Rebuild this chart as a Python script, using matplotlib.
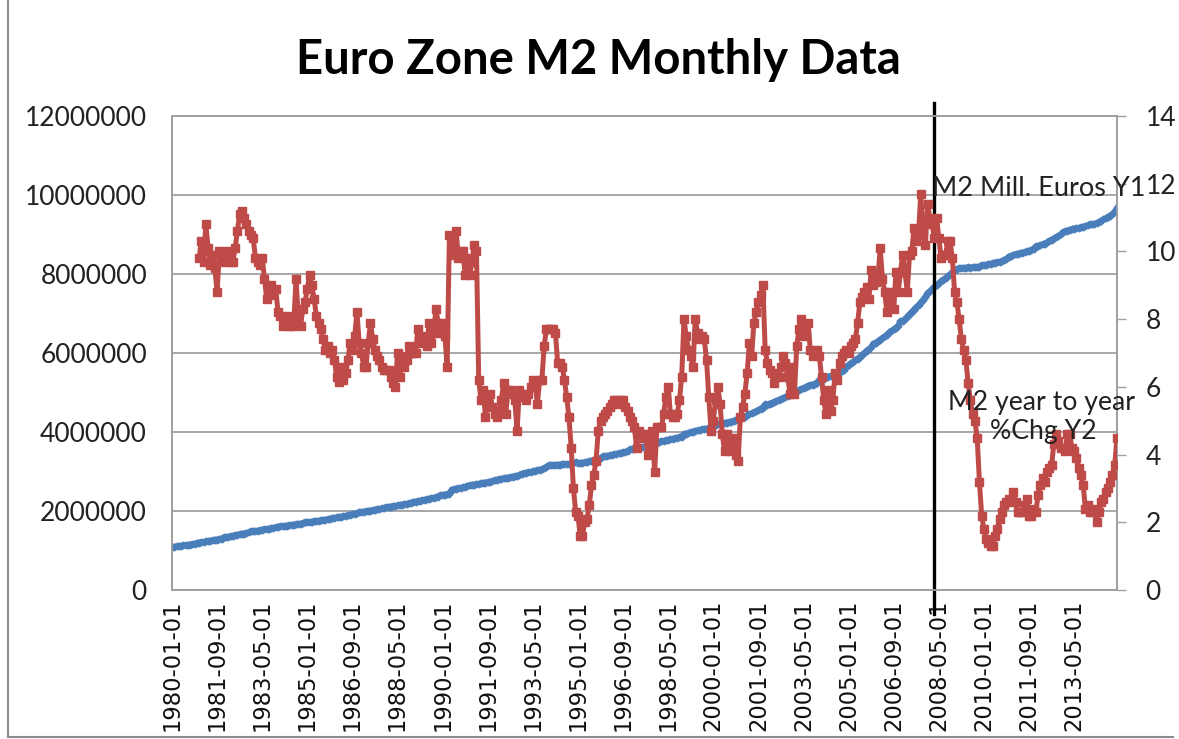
import numpy as np
import pandas as pd
import matplotlib
matplotlib.use("Agg")
import matplotlib.pyplot as plt
from matplotlib.lines import Line2D

# ---------------- data ----------------
start_month = "1980-01-01"
n_months = 420

# M2, in thousands of million euros (x1000 -> million euros)
m2_k = [
    1090, 1098, 1106, 1114, 1120, 1128, 1136, 1142, 1150, 1160, 1170, 1192,  # 1980
    1200, 1208, 1218, 1228, 1236, 1246, 1256, 1266, 1278, 1290, 1302, 1335,  # 1981
    1340, 1350, 1362, 1372, 1384, 1394, 1406, 1418, 1430, 1444, 1458, 1482,  # 1982
    1486, 1494, 1504, 1514, 1522, 1532, 1542, 1552, 1562, 1572, 1584, 1604,  # 1983
    1608, 1614, 1622, 1630, 1638, 1646, 1656, 1664, 1672, 1682, 1692, 1715,  # 1984
    1716, 1720, 1730, 1738, 1746, 1756, 1764, 1772, 1782, 1790, 1800, 1825,  # 1985
    1828, 1836, 1848, 1858, 1868, 1880, 1890, 1902, 1914, 1926, 1940, 1972,  # 1986
    1976, 1984, 1994, 2002, 2012, 2022, 2032, 2042, 2052, 2064, 2074, 2100,  # 1987
    2104, 2112, 2122, 2130, 2140, 2150, 2160, 2170, 2180, 2192, 2204, 2236,  # 1988
    2240, 2250, 2262, 2274, 2286, 2298, 2310, 2322, 2336, 2350, 2366, 2400,  # 1989
    2406, 2416, 2426, 2436, 2540, 2552, 2562, 2574, 2586, 2598, 2610, 2640,  # 1990
    2650, 2658, 2668, 2676, 2690, 2700, 2712, 2720, 2732, 2744, 2756, 2780,  # 1991
    2790, 2800, 2812, 2824, 2836, 2848, 2858, 2870, 2880, 2892, 2904, 2945,  # 1992
    2950, 2962, 2976, 2990, 3004, 3016, 3030, 3044, 3060, 3080, 3110, 3160,  # 1993
    3160, 3164, 3168, 3170, 3176, 3180, 3186, 3190, 3194, 3200, 3206, 3230,  # 1994
    3212, 3216, 3224, 3234, 3244, 3256, 3270, 3284, 3300, 3320, 3340, 3380,  # 1995
    3384, 3396, 3408, 3420, 3432, 3446, 3458, 3470, 3484, 3498, 3512, 3560,  # 1996
    3560, 3572, 3584, 3596, 3608, 3620, 3632, 3644, 3656, 3670, 3684, 3730,  # 1997
    3750, 3762, 3776, 3790, 3804, 3816, 3828, 3840, 3852, 3866, 3880, 3950,  # 1998
    3960, 3980, 3996, 4010, 4030, 4040, 4050, 4064, 4076, 4086, 4100, 4150,  # 1999
    4160, 4180, 4196, 4210, 4220, 4230, 4240, 4250, 4262, 4290, 4300, 4340,  # 2000
    4350, 4370, 4390, 4420, 4450, 4470, 4500, 4520, 4550, 4590, 4620, 4700,  # 2001
    4690, 4720, 4740, 4760, 4790, 4810, 4840, 4860, 4880, 4900, 4930, 5000,  # 2002
    5020, 5040, 5060, 5090, 5110, 5140, 5170, 5190, 5200, 5220, 5250, 5320,  # 2003
    5330, 5350, 5380, 5400, 5420, 5440, 5470, 5490, 5510, 5540, 5570, 5650,  # 2004
    5700, 5740, 5780, 5820, 5860, 5900, 5960, 6000, 6060, 6100, 6140, 6240,  # 2005
    6250, 6300, 6340, 6380, 6420, 6460, 6520, 6560, 6600, 6640, 6690, 6800,  # 2006
    6820, 6860, 6920, 6980, 7040, 7100, 7160, 7210, 7280, 7340, 7420, 7520,  # 2007
    7560, 7620, 7680, 7720, 7760, 7820, 7860, 7900, 7950, 7990, 8040, 8100,  # 2008
    8120, 8140, 8150, 8160, 8150, 8170, 8160, 8170, 8180, 8170, 8180, 8230,  # 2009
    8220, 8230, 8250, 8260, 8280, 8290, 8300, 8310, 8330, 8360, 8380, 8440,  # 2010
    8460, 8480, 8500, 8510, 8530, 8540, 8560, 8570, 8590, 8610, 8640, 8700,  # 2011
    8710, 8730, 8750, 8770, 8800, 8840, 8870, 8900, 8930, 8960, 9000, 9060,  # 2012
    9080, 9100, 9120, 9140, 9150, 9160, 9170, 9180, 9200, 9210, 9230, 9260,  # 2013
    9260, 9270, 9290, 9320, 9350, 9380, 9410, 9450, 9480, 9520, 9580, 9670,  # 2014
]

# M2 year-to-year % change (starts 1981-01)
yoy_start_index = 12
m2_yoy = [
    9.8, 10.3, 9.7, 10.8, 10.1, 9.6, 9.9, 9.5, 8.8, 10.0, 9.9, 9.7,       # 1981
    10.0, 9.9, 9.7, 9.7, 10.1, 10.6, 11.1, 11.2, 11.0, 10.8, 10.6, 10.5,  # 1982
    10.4, 9.8, 9.7, 9.6, 9.8, 9.2, 8.6, 8.9, 9.0, 8.7, 8.9, 8.2,          # 1983
    8.1, 7.8, 7.9, 8.1, 7.8, 7.8, 7.9, 9.2, 8.0, 7.8, 8.3, 8.5,           # 1984
    8.9, 9.3, 9.0, 8.6, 8.1, 7.9, 7.7, 7.4, 7.1, 7.2, 7.0, 7.1,           # 1985
    6.8, 6.3, 6.15, 6.6, 6.2, 6.4, 6.8, 7.3, 7.1, 7.5, 8.2, 7.3,          # 1986
    7.0, 6.6, 6.6, 7.3, 7.9, 7.4, 7.1, 6.9, 6.8, 6.6, 6.5, 6.5,           # 1987
    6.5, 6.3, 6.1, 6.0, 7.0, 6.3, 6.9, 6.6, 6.8, 7.2, 7.0, 7.0,           # 1988
    7.0, 7.7, 7.3, 7.5, 7.4, 7.2, 7.9, 7.3, 7.6, 8.3, 7.9, 7.6,           # 1989
    7.9, 7.5, 6.6, 10.5, 10.3, 9.9, 10.6, 9.8, 10.0, 10.0, 9.3, 9.8,      # 1990
    9.3, 9.7, 10.2, 10.0, 6.2, 5.6, 5.9, 5.1, 5.5, 5.8, 5.4, 5.2,         # 1991
    5.1, 5.3, 5.6, 6.1, 5.2, 5.9, 5.9, 5.8, 5.6, 4.7, 5.9, 5.7,           # 1992
    5.8, 5.6, 5.8, 6.0, 6.2, 6.1, 5.5, 6.2, 6.2, 7.2, 7.7, 7.7,           # 1993
    7.7, 7.7, 7.6, 6.7, 6.7, 6.6, 6.2, 5.7, 5.1, 4.2, 3.0, 2.3,           # 1994
    2.2, 1.6, 1.6, 2.0, 2.1, 2.5, 3.1, 3.4, 3.8, 4.7, 5.0, 5.1,           # 1995
    5.2, 5.3, 5.4, 5.5, 5.6, 5.6, 5.5, 5.6, 5.6, 5.4, 5.3, 5.1,           # 1996
    5.0, 4.8, 4.2, 4.7, 4.6, 4.5, 4.6, 4.0, 4.4, 4.7, 3.5, 4.8,           # 1997
    4.8, 4.8, 5.2, 5.7, 6.0, 5.2, 5.1, 5.1, 5.2, 5.6, 6.3, 8.0,           # 1998
    7.5, 7.1, 6.9, 6.6, 8.0, 7.6, 7.4, 7.5, 7.4, 6.8, 5.7, 4.7,           # 1999
    5.0, 5.6, 6.0, 5.5, 4.6, 4.1, 4.6, 4.3, 4.1, 4.5, 4.0, 3.8,           # 2000
    5.1, 5.4, 5.8, 6.4, 7.3, 6.9, 7.9, 8.2, 8.5, 8.7, 9.0, 7.1,           # 2001
    6.7, 6.5, 6.4, 6.1, 6.3, 6.3, 6.6, 6.9, 6.7, 6.3, 5.8, 6.6,           # 2002
    5.8, 7.2, 7.7, 8.0, 7.5, 7.6, 7.9, 7.1, 6.9, 7.0, 7.1, 6.9,           # 2003
    6.3, 5.6, 5.2, 5.9, 5.3, 5.6, 6.4, 6.2, 6.7, 6.9, 7.0, 7.1,           # 2004
    7.0, 7.2, 7.3, 7.4, 7.9, 8.5, 8.65, 8.8, 8.95, 8.6, 9.45, 9.0,        # 2005
    9.1, 9.2, 10.1, 9.2, 8.8, 8.2, 8.8, 8.5, 8.3, 9.4, 8.8, 9.4,          # 2006
    9.9, 9.4, 8.8, 9.9, 10.0, 10.7, 10.3, 10.5, 11.7, 10.5, 10.2, 11.4,   # 2007
    11.0, 10.8, 10.4, 11.0, 10.4, 9.8, 9.9, 9.9, 10.3, 10.3, 9.8, 8.8,    # 2008
    8.5, 8.0, 7.4, 7.1, 6.8, 6.1, 5.6, 5.2, 5.0, 4.5, 3.2, 2.2,           # 2009
    1.8, 1.5, 1.4, 1.3, 1.3, 1.6, 1.8, 2.1, 2.3, 2.5, 2.6, 2.7,           # 2010
    2.6, 2.9, 2.6, 2.3, 2.3, 2.3, 2.5, 2.7, 2.2, 2.2, 2.4, 2.3,           # 2011
    2.8, 3.1, 3.3, 3.2, 3.5, 3.6, 3.7, 4.3, 4.6, 4.4, 4.2, 4.2,           # 2012
    4.1, 4.6, 4.6, 4.2, 4.1, 3.9, 3.6, 3.4, 3.1, 2.4, 2.5, 2.3,           # 2013
    2.3, 2.4, 2.0, 2.3, 2.6, 2.7, 2.9, 3.0, 3.2, 3.4, 3.7, 4.5,           # 2014
]

tick_step = 20
marker_line_index = 338   # vertical reference line (early 2008)

title = "Euro Zone M2 Monthly Data"
label_m2 = "M2 Mill. Euros Y1"
label_yoy_1 = "M2 year to year"
label_yoy_2 = "%Chg Y2"

left_ticks = [0, 2000000, 4000000, 6000000, 8000000, 10000000, 12000000]
right_ticks = [0, 2, 4, 6, 8, 10, 12, 14]

# ---------------- derived ----------------
dates = pd.date_range(start_month, periods=n_months, freq="MS").strftime("%Y-%m-%d").tolist()
x = np.arange(n_months)
m2 = np.array(m2_k) * 1000
x_yoy = np.arange(yoy_start_index, yoy_start_index + len(m2_yoy))

# ---------------- styling ----------------
W, H, DPI = 1179, 739, 100
fig = plt.figure(figsize=(W / DPI, H / DPI), dpi=DPI)
fig.patch.set_facecolor("white")

def fx(px):
    return px / W

def fy(py):
    return 1 - py / H

L, R, T, B = 172, 1117, 116, 590
ax = fig.add_axes([fx(L), fy(B), fx(R) - fx(L), fy(T) - fy(B)])
ax2 = ax.twinx()

blue = "#4A7EBB"
red = "#BE4B48"
grid_c = "#A0A0A0"
lbl_font = ["Lato", "DejaVu Sans"]

ax.plot(x, m2, color=blue, lw=4.3, marker="D", ms=3.5, mec=blue, mfc=blue,
        solid_joinstyle="round", zorder=3)
ax2.plot(x_yoy, m2_yoy, color=red, lw=3.6, marker="s", ms=5.2, mec=red, mfc=red,
         solid_joinstyle="round", zorder=3)

ax.set_xlim(0, n_months - 1)
ax.set_ylim(0, 12000000)
ax2.set_ylim(0, 14)

ax.set_yticks(left_ticks)
ax.set_yticklabels([str(v) for v in left_ticks], fontfamily=lbl_font, fontsize=19, color="#222222")
ax2.set_yticks(right_ticks)
ax2.set_yticklabels([str(v) for v in right_ticks], fontfamily=lbl_font, fontsize=19, color="#222222")

tick_pos = list(range(0, n_months, tick_step))
ax.set_xticks(tick_pos)
ax.set_xticklabels([dates[i] for i in tick_pos], rotation=90, fontfamily="DejaVu Sans",
                   fontsize=16.3, color="#111111", va="top", ha="center")
ax.tick_params(axis="x", length=0, pad=7)
ax.tick_params(axis="y", length=0, pad=18)
ax2.tick_params(axis="y", length=6.5, width=1, color=grid_c, pad=14)

ax.grid(axis="y", color=grid_c, lw=1.3)
ax.set_axisbelow(True)
for a in (ax, ax2):
    for s in a.spines.values():
        s.set_color(grid_c)
        s.set_linewidth(1.3)

# vertical reference line (extends beyond plot area)
ax.axvline(marker_line_index, ymin=-0.05, ymax=1.028, color="black", lw=2.4,
           clip_on=False, zorder=5)

# title and series labels
fig.text(fx(598), fy(60), title, ha="center", va="center", fontsize=34,
         fontweight="bold", fontfamily=lbl_font, color="black")
fig.text(fx(932), fy(196), label_m2, ha="left", va="baseline", fontsize=19.5,
         fontfamily=lbl_font, color="#222222")
fig.text(fx(1042), fy(410), label_yoy_1, ha="center", va="baseline", fontsize=19.2,
         fontfamily=lbl_font, color="#222222")
fig.text(fx(1043), fy(439), label_yoy_2, ha="center", va="baseline", fontsize=19.2,
         fontfamily=lbl_font, color="#222222")

# chart area border
fig.add_artist(Line2D([fx(8), fx(8)], [fy(0), fy(737)], color="#8C8C8C", lw=1.5))
fig.add_artist(Line2D([fx(8), fx(1173)], [fy(737), fy(737)], color="#8C8C8C", lw=1.5))

fig.savefig("out.png", dpi=DPI, facecolor="white")
